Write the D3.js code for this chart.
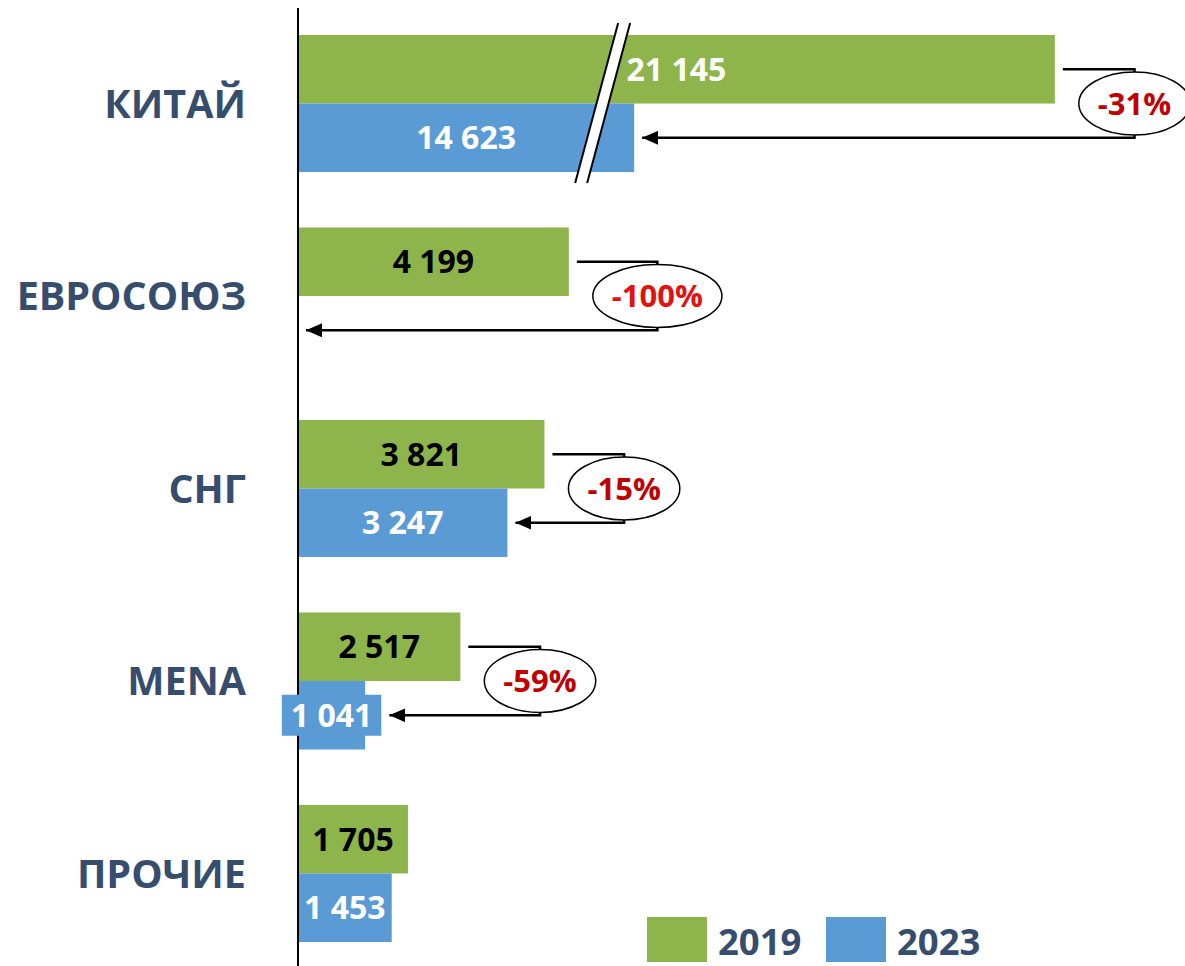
<!DOCTYPE html>
<html>
<head>
<meta charset="utf-8">
<script src="https://cdn.jsdelivr.net/npm/d3@7"></script>
<style>
  html, body { margin: 0; padding: 0; background: #fff; }
  svg { display: block; }
  text { font-family: "Open Sans", "Noto Sans", sans-serif; font-weight: 700; }
</style>
</head>
<body>
<svg id="chart" width="1185" height="966"></svg>
<script>
const categories = ["КИТАЙ", "ЕВРОСОЮЗ", "СНГ", "MENA", "ПРОЧИЕ"];
const seriesNames = ["2019", "2023"];
const values2019 = [21145, 4199, 3821, 2517, 1705];
const values2023 = [14623, 0, 3247, 1041, 1453];
const changeLabels = ["-31%", "-100%", "-15%", "-59%", null];
const changeColors = ["#c00000", "#e31212", "#c00000", "#c00000", null];
const breakFrom = 4700, breakTo = 14111;   // axis break (compressed range)

const W = 1185, H = 966;
const green = "#8db54b", blue = "#5b9bd5", catColor = "#364d6e";
const svg = d3.select("#chart");

const k = 0.0645;
const x0 = 298;
const xMax = 22000;
const x = d3.scaleLinear()
  .domain([0, breakFrom, breakTo, xMax])
  .range([x0, x0 + breakFrom * k, x0 + breakFrom * k, x0 + (breakFrom + xMax - breakTo) * k]);

const y = d3.scaleBand().domain(categories).range([35, 942]).paddingInner(0.288).paddingOuter(0);
const ys = d3.scaleBand().domain(seriesNames).range([0, y.bandwidth()]);

const rows = categories.map((c, i) => ({
  cat: c, v: [values2019[i], values2023[i]], change: changeLabels[i], color: changeColors[i], labelRight: [0, 0]
}));

// bars
const colors = [green, blue];
rows.forEach((r) => {
  seriesNames.forEach((s, j) => {
    const v = r.v[j];
    r.labelRight[j] = x(v);
    if (v <= 0) return;
    svg.append("rect")
      .attr("x", x(0)).attr("y", y(r.cat) + ys(s))
      .attr("width", x(v) - x(0)).attr("height", ys.bandwidth())
      .attr("fill", colors[j]);
  });
});

// break marks
{
  const bx = x(breakFrom) - 4.5;
  const yTop = 23, yBot = 183, dx = 21.5, gap = 12;
  const band = svg.append("g");
  band.append("polygon")
    .attr("points", [[bx + dx, yTop], [bx + dx + gap, yTop], [bx - dx + gap, yBot], [bx - dx, yBot]].map(p => p.join(",")).join(" "))
    .attr("fill", "#fff");
  band.append("line").attr("x1", bx + dx).attr("y1", yTop).attr("x2", bx - dx).attr("y2", yBot)
    .attr("stroke", "#000").attr("stroke-width", 2);
  band.append("line").attr("x1", bx + dx + gap).attr("y1", yTop).attr("x2", bx - dx + gap).attr("y2", yBot)
    .attr("stroke", "#000").attr("stroke-width", 2);
}

// axis line
svg.append("line").attr("x1", x0).attr("x2", x0).attr("y1", 8).attr("y2", H)
  .attr("stroke", "#000").attr("stroke-width", 2);

// value labels
const fmt = v => d3.format(",")(v).replace(/,/g, " ");
rows.forEach((r) => {
  seriesNames.forEach((s, j) => {
    const v = r.v[j];
    if (v <= 0) return;
    const cx = (x(0) + x(v)) / 2;
    const cy = y(r.cat) + ys(s) + ys.bandwidth() / 2;
    const fill = j === 1 ? "#fff" : (v > breakFrom ? "#fff" : "#000");
    const t = svg.append("text").attr("x", cx).attr("y", cy).attr("dy", "0.36em")
      .attr("text-anchor", "middle").attr("font-size", 32).attr("fill", fill).text(fmt(v));
    const w = t.node().getComputedTextLength();
    if (w + 6 > x(v) - x(0)) {
      svg.insert("rect", () => t.node())
        .attr("x", cx - w / 2 - 9).attr("y", cy - 20.5).attr("width", w + 18).attr("height", 41)
        .attr("fill", colors[j]);
      r.labelRight[j] = Math.max(x(v), cx + w / 2 + 9);
    }
  });
});

// arrows + change ellipses
svg.append("defs").append("marker")
  .attr("id", "arr").attr("viewBox", "0 0 16 14").attr("refX", 16).attr("refY", 7)
  .attr("markerWidth", 16).attr("markerHeight", 14).attr("markerUnits", "userSpaceOnUse")
  .attr("orient", "auto")
  .append("path").attr("d", "M0,0 L16,7 L0,14 Z").attr("fill", "#000");

rows.forEach((r) => {
  if (!r.change) return;
  const yA = y(r.cat) + ys("2019") + ys.bandwidth() / 2;
  const yB = y(r.cat) + ys("2023") + ys.bandwidth() / 2;
  const xA = x(r.v[0]);
  const xB = r.labelRight[1];
  const cy = (yA + yB) / 2;
  const g = svg.append("g");
  const t = g.append("text").attr("y", cy).attr("dy", "0.36em")
    .attr("text-anchor", "middle").attr("font-size", 31).attr("fill", r.color).text(r.change);
  const rx = t.node().getComputedTextLength() / 2 + 19;
  const bx = xA + rx + 24;
  t.attr("x", bx);
  svg.insert("path", () => g.node())
    .attr("d", `M${xA + 8},${yA} H${bx} V${yB} H${xB + 8}`)
    .attr("fill", "none").attr("stroke", "#000").attr("stroke-width", 2.5)
    .attr("marker-end", "url(#arr)");
  g.insert("ellipse", "text").attr("cx", bx).attr("cy", cy).attr("rx", rx).attr("ry", 31.5)
    .attr("fill", "#fff").attr("stroke", "#000").attr("stroke-width", 1.5);
});

// category labels
categories.forEach(c => {
  svg.append("text").attr("x", 246).attr("y", y(c) + y.bandwidth() / 2).attr("dy", "0.36em")
    .attr("text-anchor", "end").attr("font-size", 39.5).attr("fill", catColor).text(c);
});

// legend
const lg = svg.append("g");
[[647, 718], [826, 897]].forEach((p, j) => {
  lg.append("rect").attr("x", p[0]).attr("y", 917).attr("width", 60).attr("height", 45).attr("fill", colors[j]);
  lg.append("text").attr("x", p[1]).attr("y", 941.5).attr("dy", "0.36em")
    .attr("font-size", 36.5).attr("fill", catColor).text(seriesNames[j]);
});
</script>
</body>
</html>
